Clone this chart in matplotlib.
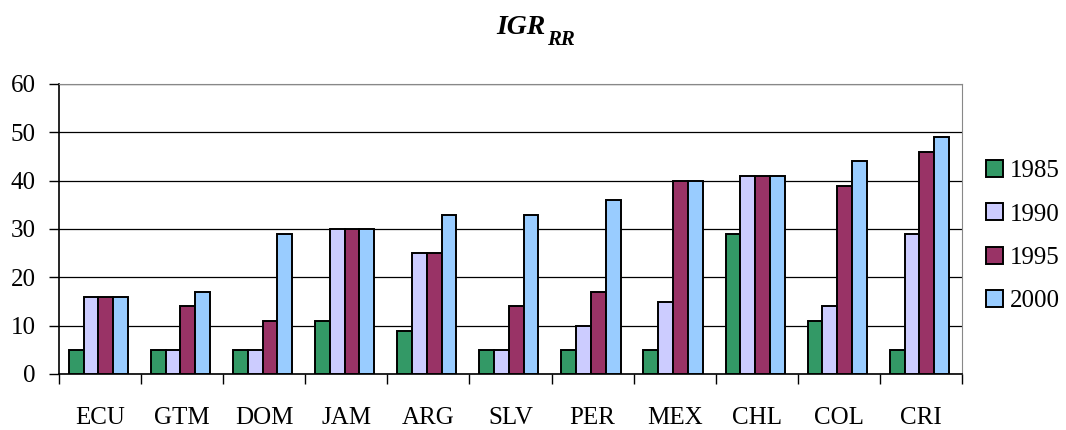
import numpy as np
import matplotlib.pyplot as plt
from matplotlib.ticker import FixedLocator, NullFormatter

countries = ["ECU", "GTM", "DOM", "JAM", "ARG", "SLV", "PER", "MEX", "CHL", "COL", "CRI"]
years = ["1985", "1990", "1995", "2000"]
v1985 = [5, 5, 5, 11, 9, 5, 5, 5, 29, 11, 5]
v1990 = [16, 5, 5, 30, 25, 5, 10, 15, 41, 14, 29]
v1995 = [16, 14, 11, 30, 25, 14, 17, 40, 41, 39, 46]
v2000 = [16, 17, 29, 30, 33, 33, 36, 40, 41, 44, 49]

colors = ["#339966", "#CCCCFF", "#993366", "#99CCFF"]
serif = ["Liberation Serif", "DejaVu Serif"]
plt.rcParams["font.family"] = serif

fig = plt.figure(figsize=(10.66, 4.3), dpi=100)
ax = fig.add_axes([59 / 1066, 1 - 374 / 430, 903 / 1066, 290 / 430])

x = np.arange(len(countries))
w = 0.18
series = [v1985, v1990, v1995, v2000]
for i, (vals, col, yr) in enumerate(zip(series, colors, years)):
    ax.bar(x + (i - 1.5) * w - 0.02, vals, width=w, color=col, edgecolor="black",
           linewidth=1.4, label=yr, zorder=3)

ax.set_xlim(-0.5, len(countries) - 0.5)
ax.set_ylim(0, 60)
ax.set_yticks(range(0, 61, 10))
ax.yaxis.grid(True, color="black", linewidth=0.9, zorder=0)
ax.tick_params(axis="y", direction="out", length=7, width=1, labelsize=18, pad=10)

# boundaries carry the tick marks, centres carry the labels
ax.xaxis.set_major_locator(FixedLocator(np.arange(-0.5, len(countries), 1.0)))
ax.xaxis.set_major_formatter(NullFormatter())
ax.set_xticks(x, minor=True)
ax.set_xticklabels(countries, minor=True)
ax.tick_params(axis="x", which="major", direction="out", length=7, width=1)
ax.tick_params(axis="x", which="minor", length=0, labelsize=18, pad=24)

for s in ["top", "right"]:
    ax.spines[s].set_color("#888888")
for s in ["left", "bottom"]:
    ax.spines[s].set_color("black")
    ax.spines[s].set_linewidth(1.2)

ax.legend(loc="center left", bbox_to_anchor=(1.002, 0.475), frameon=False,
          fontsize=18, handlelength=0.65, handleheight=0.65, labelspacing=0.85,
          handletextpad=0.3)

fig.text(0.512, 0.935, "IGR", fontsize=20, fontweight="bold", fontstyle="italic",
         ha="right", va="center")
fig.text(0.513, 0.908, "RR", fontsize=15, fontweight="bold", fontstyle="italic",
         ha="left", va="center")

fig.savefig("out.png", dpi=100)
